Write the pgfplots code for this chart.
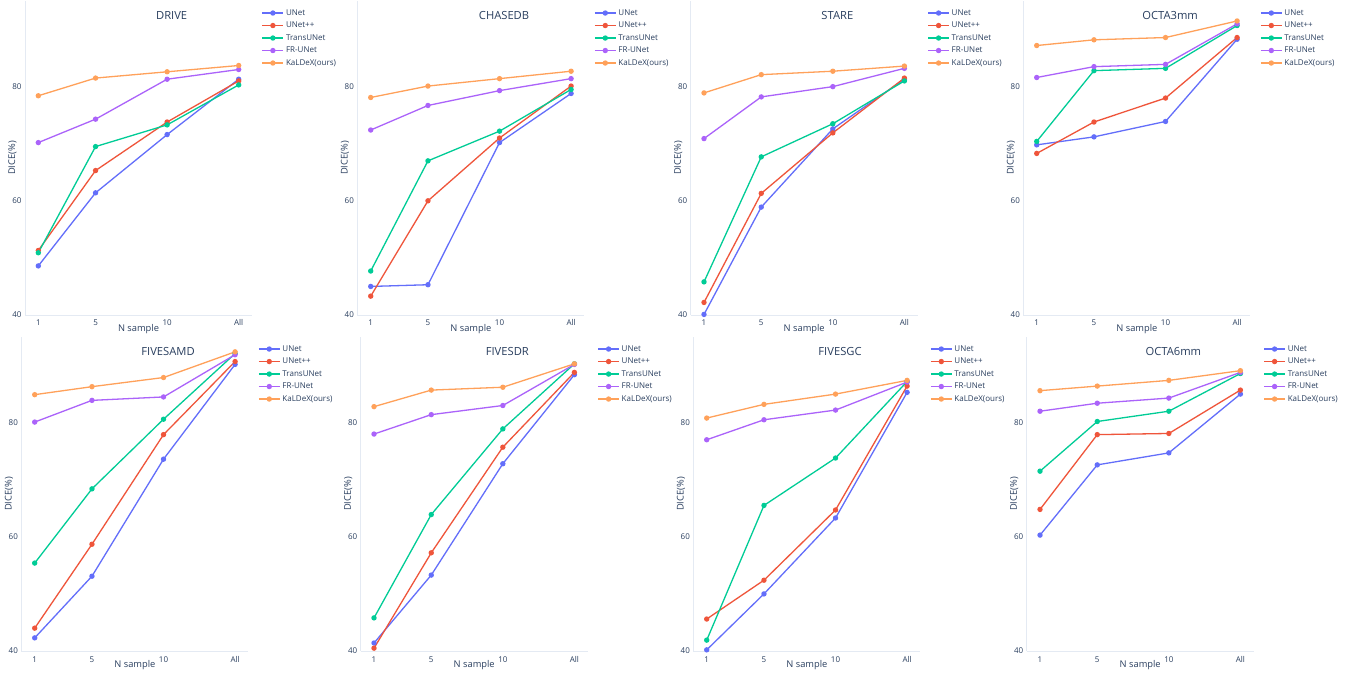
\documentclass[border=0pt]{standalone}
\usepackage{pgfplots}
\pgfplotsset{compat=1.18}
\usepackage{pgfplotstable}
\usepackage{fontspec}
\setmainfont{Open Sans}
\definecolor{cU}{HTML}{636EFA}
\definecolor{cP}{HTML}{EF553B}
\definecolor{cT}{HTML}{00CC96}
\definecolor{cF}{HTML}{AB63FA}
\definecolor{cK}{HTML}{FFA15A}
\definecolor{txt}{HTML}{2A3F5F}
\definecolor{axl}{HTML}{E4EAF3}

% columns: x, UNet, UNet++, TransUNet, FR-UNet, KaLDeX
\pgfplotstableread{
x a b c d e
1 48.6 51.3 50.9 70.2 78.4
5 61.4 65.3 69.5 74.3 81.5
10 71.6 73.8 73.3 81.3 82.6
15 81.3 81.0 80.3 83.0 83.7
}\drive
\pgfplotstableread{
x a b c d e
1 45.0 43.3 47.7 72.4 78.1
5 45.3 60.0 67.0 76.7 80.1
10 70.2 71.0 72.2 79.3 81.4
15 78.8 80.1 79.5 81.4 82.7
}\chase
\pgfplotstableread{
x a b c d e
1 40.1 42.2 45.8 70.9 78.9
5 58.9 61.3 67.7 78.2 82.1
10 72.6 71.9 73.5 80.0 82.7
15 81.3 81.5 81.0 83.2 83.6
}\stare
\pgfplotstableread{
x a b c d e
1 69.8 68.3 70.4 81.6 87.2
5 71.2 73.8 82.8 83.5 88.2
10 73.9 78.0 83.2 83.9 88.6
15 88.3 88.6 90.7 91.0 91.5
}\octathree
\pgfplotstableread{
x a b c d e
1 42.3 44.0 55.4 80.1 84.9
5 53.1 58.7 68.4 83.9 86.3
10 73.6 77.9 80.6 84.5 87.9
15 90.2 90.7 92.1 91.9 92.4
}\fivesamd
\pgfplotstableread{
x a b c d e
1 41.4 40.5 45.8 78.0 82.8
5 53.3 57.2 63.9 81.4 85.7
10 72.8 75.7 78.9 83.0 86.2
15 88.4 88.8 90.3 90.2 90.3
}\fivesdr
\pgfplotstableread{
x a b c d e
1 40.2 45.6 41.9 77.0 80.8
5 50.0 52.4 65.5 80.5 83.2
10 63.3 64.7 73.8 82.2 85.0
15 85.3 86.4 87.2 87.1 87.4
}\fivesgc
\pgfplotstableread{
x a b c d e
1 60.3 64.8 71.5 82.0 85.6
5 72.6 77.9 80.2 83.4 86.4
10 74.7 78.1 82.0 84.3 87.4
15 85.0 85.7 88.6 88.8 89.1
}\octasix

\pgfplotsset{
  panel/.style={
    scale only axis, width=227pt, height=314pt,
    xmin=0.07, xmax=15.93, ymin=40, ymax=95,
    clip=false,
    axis x line*=bottom, axis y line*=left,
    axis line style={draw=axl, line width=0.8pt},
    major tick length=0pt,
    xtick={1,5,10,15}, xticklabels={1,5,10,All},
    ytick={40,60,80}, yticklabels={40,60,80},
    tick label style={font=\fontsize{8}{9}\selectfont, text=txt},
    xticklabel style={anchor=base, yshift=-11pt},
    yticklabel style={anchor=east},
    xlabel={N sample}, ylabel={DICE(\%)},
    label style={font=\fontsize{9.3}{10}\selectfont, text=txt},
    xlabel style={at={(axis description cs:0.5,0)}, anchor=base, yshift=-16.7pt},
    ylabel style={at={(axis description cs:-0.055,0.5)}, anchor=center},
    title style={at={(axis description cs:0.646,0.934)}, anchor=center,
      font=\fontsize{11.2}{12}\selectfont, text=txt},
    legend style={at={(axis description cs:1.042,0.975)}, anchor=north west,
      draw=none, fill=none, font=\fontsize{8}{9}\selectfont, text=txt,
      row sep=4.5pt, column sep=2pt, inner sep=0pt,
      nodes={inner sep=0pt, text height=6pt, text depth=2pt}},
    legend cell align=left,
    legend image code/.code={\draw[mark repeat=2,mark phase=2,##1]
      plot coordinates {(0pt,0pt) (10.5pt,0pt) (21pt,0pt)};},
  },
  ser/.style={color=#1, mark=*, line width=1.3pt, mark size=2pt, mark options={solid}},
}

\newcommand\panel[4]{%
\begin{axis}[panel, at={(#1pt,#2pt)}, anchor=south west, title={#3}]
\addplot[ser=cU] table[x=x,y=a]{#4};
\addplot[ser=cP] table[x=x,y=b]{#4};
\addplot[ser=cT] table[x=x,y=c]{#4};
\addplot[ser=cF] table[x=x,y=d]{#4};
\addplot[ser=cK] table[x=x,y=e]{#4};
\legend{UNet,UNet++,TransUNet,FR-UNet,KaLDeX(ours)}
\end{axis}}

\begin{document}
\begin{tikzpicture}
\useasboundingbox[fill=white] (0,0) rectangle (1357pt,672pt);
\panel{25}{357}{DRIVE}{\drive}
\panel{357.4}{357}{CHASEDB}{\chase}
\panel{690.7}{357}{STARE}{\stare}
\panel{1023.4}{357}{OCTA3mm}{\octathree}
\panel{21.4}{21}{FIVESAMD}{\fivesamd}
\panel{360.7}{21}{FIVESDR}{\fivesdr}
\panel{693.4}{21}{FIVESGC}{\fivesgc}
\panel{1026.7}{21}{OCTA6mm}{\octasix}
\end{tikzpicture}
\end{document}
